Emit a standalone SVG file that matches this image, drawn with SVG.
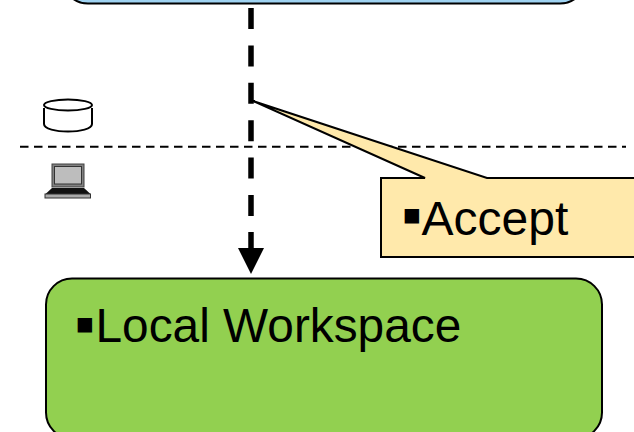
<svg xmlns="http://www.w3.org/2000/svg" width="634" height="432" viewBox="0 0 634 432">
<style>
.box{stroke:#000;stroke-width:2}
.label{font-family:"Liberation Sans",Arial,sans-serif;font-size:48px;fill:#000}
.bullet{font-family:"DejaVu Sans",sans-serif;font-size:29px}
.flow{fill:none;stroke:#000;stroke-width:5.5}
.ic{stroke:#000;stroke-width:2;fill:#fff}
</style>
<rect width="634" height="432" fill="#fff"/>
<g id="server-box"><rect class="box" x="62" y="-60" width="524" height="63.500" rx="26" fill="#9fd3f2"/></g>
<g id="connectors">
<path class="flow" d="M251 8V232" stroke-dasharray="21 16.400"/>
<path class="flow" d="M251 232V250"/>
<path d="M238 248H264L251 274Z" fill="#000"/>
<path d="M20 146.700H626" fill="none" stroke="#000" stroke-width="2" stroke-dasharray="8.500 5.500"/>
</g>
<g id="repository-icon">
<path class="ic" d="M44 108V124C44 134 92 134 92 124V108"/>
<ellipse class="ic" cx="68" cy="105" rx="24" ry="5.500"/>
</g>
<g id="laptop-icon">
<rect x="52" y="164" width="32" height="23" fill="#808080" stroke="#404040" stroke-width="1"/>
<rect x="54.500" y="166.500" width="27" height="17.500" fill="#bdbdbd" stroke="#333" stroke-width="1"/>
<path d="M52 188H84L90.500 194H45.500Z" fill="#111"/>
<rect x="45" y="194" width="45.500" height="4" fill="#aaa" stroke="#333" stroke-width="1"/>
</g>
<g id="accept-callout">
<path class="box" d="M253 101L487 178H640V257H381V178H425Z" fill="#ffe9ab"/>
<text class="label" y="235"><tspan class="bullet" x="402" y="224">▪</tspan><tspan x="421.500" y="235">Accept</tspan></text>
</g>
<g id="local-workspace">
<rect class="box" x="46" y="278.500" width="556" height="160" rx="26" fill="#92d050"/>
<text class="label" y="342"><tspan class="bullet" x="75" y="333">▪</tspan><tspan x="95.500" y="342" style="font-size:47.800px">Local Workspace</tspan></text>
</g>
</svg>
